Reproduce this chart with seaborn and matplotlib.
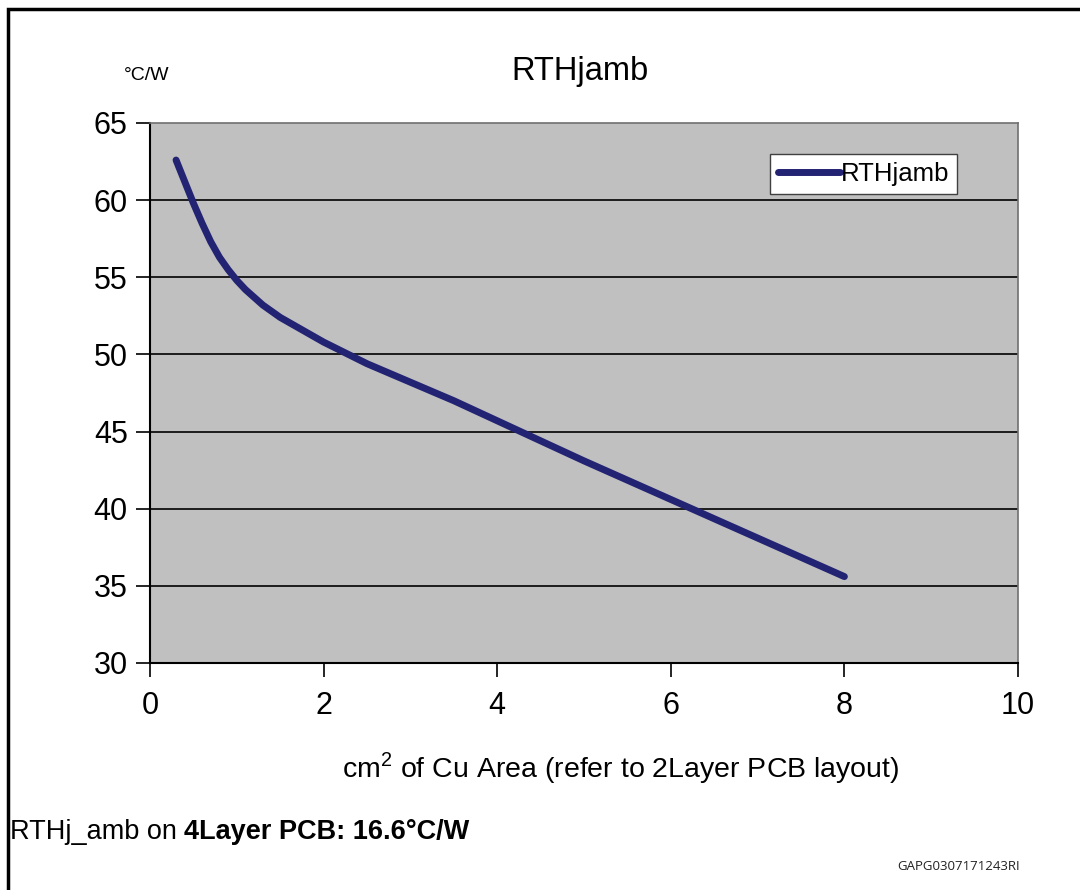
"""RTHjamb vs copper area chart."""

import matplotlib
matplotlib.use("Agg")
import matplotlib.pyplot as plt
import seaborn as sns
import pandas as pd
from matplotlib.patches import Rectangle

# values
CU_AREA = [0.3, 0.4, 0.5, 0.6, 0.7, 0.8, 0.9, 1.0, 1.1, 1.2, 1.3, 1.4, 1.5,
           1.75, 2.0, 2.5, 3.0, 3.5, 4.0, 5.0, 6.0, 7.0, 8.0]
RTH = [62.6, 61.2, 59.8, 58.5, 57.3, 56.3, 55.5, 54.8, 54.2, 53.7, 53.2, 52.8,
       52.4, 51.6, 50.8, 49.4, 48.2, 47.0, 45.7, 43.1, 40.6, 38.1, 35.6]
X_TICKS = [0, 2, 4, 6, 8, 10]
Y_TICKS = [30, 35, 40, 45, 50, 55, 60, 65]

sns.set_style("white")
plt.rcParams["font.family"] = ["Liberation Sans", "DejaVu Sans"]
plt.rcParams["text.color"] = "black"
plt.rcParams["xtick.color"] = "black"
plt.rcParams["ytick.color"] = "black"

df = pd.DataFrame({"area": CU_AREA, "rth": RTH})

fig = plt.figure(figsize=(10.8, 8.9), dpi=100)
ax = fig.add_axes([150 / 1080, 1 - 663 / 890, 868 / 1080, 540 / 890])
ax.set_facecolor("#C0C0C0")

sns.lineplot(data=df, x="area", y="rth", ax=ax, color="#232373", linewidth=5,
             solid_capstyle="round", label="RTHjamb")

ax.set_xlim(0, 10)
ax.set_ylim(30, 65)
ax.set_xticks(X_TICKS)
ax.set_yticks(Y_TICKS)
ax.tick_params(axis="both", labelsize=22, direction="out", length=10, width=1.2,
               color="black", labelcolor="black", bottom=True, left=True, pad=6)
ax.tick_params(axis="x", pad=10)
for y in Y_TICKS[1:-1]:
    ax.axhline(y, color="black", linewidth=1.2, zorder=1)

for side in ["left", "bottom"]:
    ax.spines[side].set_color("black")
    ax.spines[side].set_linewidth(1.5)
for side in ["top", "right"]:
    ax.spines[side].set_color("#707070")
    ax.spines[side].set_linewidth(1.2)

ax.set_xlabel("")
ax.set_ylabel("")

leg = ax.legend(loc="upper right", bbox_to_anchor=(0.93, 0.942), fontsize=18.5,
                frameon=True, fancybox=False, handlelength=2.4, handletextpad=0.05,
                borderpad=0.3, borderaxespad=0, framealpha=1)
leg.get_frame().set_facecolor("white")
leg.get_frame().set_edgecolor("#404040")
leg.get_frame().set_linewidth(1.0)

fig.text(580 / 1080, 1 - 80 / 890, "RTHjamb", ha="center", va="baseline", fontsize=23.5)
fig.text(147 / 1080, 1 - 76 / 890, "°C/W", ha="center", va="center", fontsize=14)
fig.text(621 / 1080, 1 - 768 / 890,
         r"cm$^{\mathregular{2}}$ of Cu Area (refer to 2Layer PCB layout)",
         ha="center", va="center", fontsize=20.5)
t1 = fig.text(10 / 1080, 1 - 832 / 890, "RTHj_amb on ", ha="left", va="center",
              fontsize=19.5)
fig.canvas.draw()
bb = t1.get_window_extent()
fig.text(bb.x1 / 1080, 1 - 832 / 890, "4Layer PCB: 16.6°C/W", ha="left", va="center",
         fontsize=19.5, fontweight="bold")
fig.text(1020 / 1080, 1 - 866 / 890, "GAPG0307171243RI", ha="right", va="center",
         fontsize=9.5, color="#222222", family=["Open Sans", "DejaVu Sans"])

fig.patches.append(Rectangle((8 / 1080, -0.01), 1.1, 1 - 9 / 890 + 0.01,
                             transform=fig.transFigure, fill=False,
                             edgecolor="black", linewidth=2.5))

fig.savefig("out.png", dpi=100)
